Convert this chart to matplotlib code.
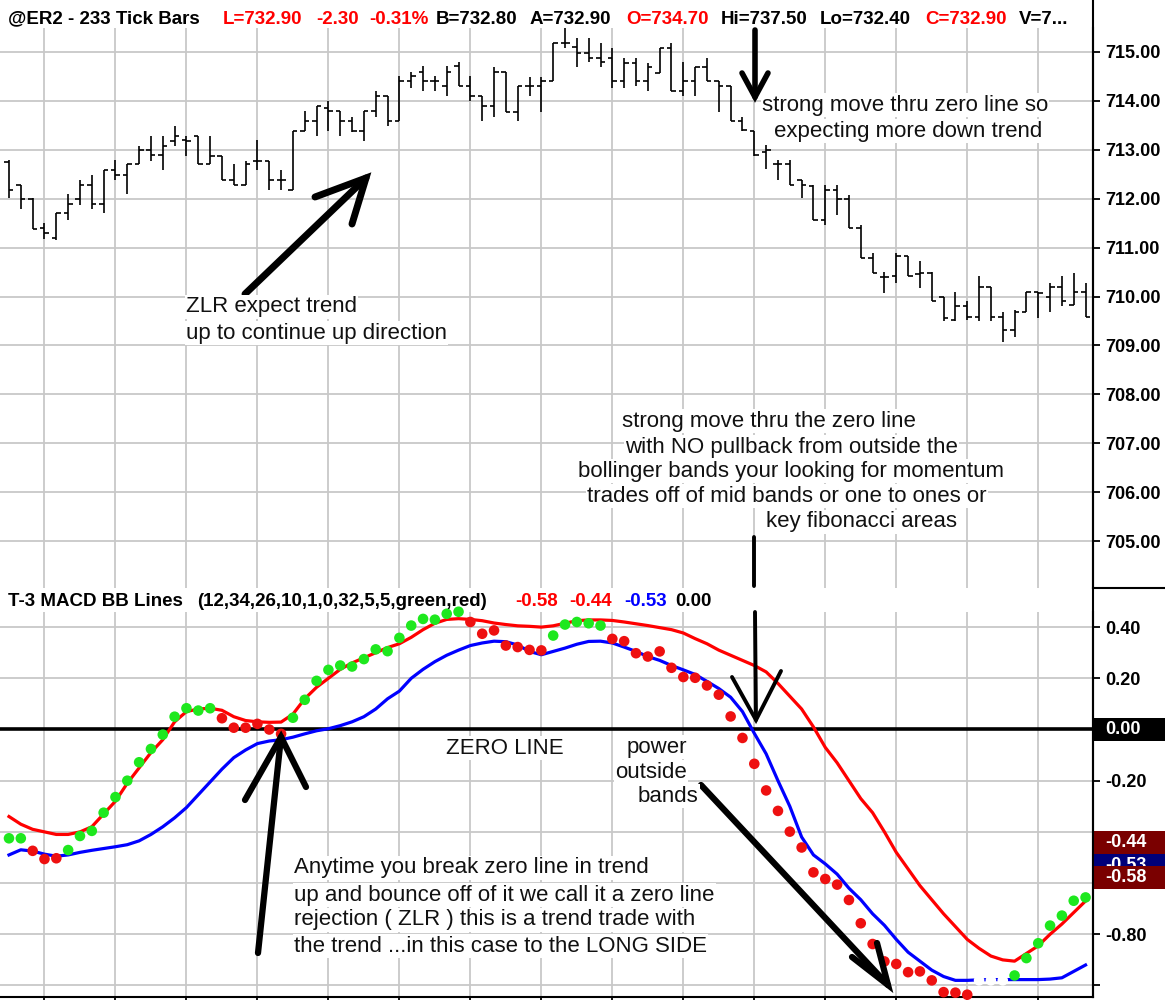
import matplotlib.pyplot as plt
from matplotlib.lines import Line2D
from matplotlib.patches import Rectangle
import numpy as np

plt.rcParams["font.family"] = ["Liberation Sans", "DejaVu Sans"]

W, H = 1165, 1000

# 233 tick bars
bar_open = [712.75, 712.29, 712.00, 711.40, 711.20, 711.70, 712.00, 712.29, 711.90, 712.58,
            712.49, 712.70, 713.00, 712.90, 713.17, 713.20, 713.28, 712.70, 712.88, 712.39,
            712.29, 712.78, 712.78, 712.39, 712.18, 713.39, 713.58, 713.85, 713.80, 713.58,
            713.39, 713.80, 714.09, 713.58, 714.40, 714.60, 714.40, 714.30, 714.71, 714.30,
            714.10, 713.89, 714.60, 713.78, 714.30, 714.30, 714.40, 715.18, 715.10, 714.98,
            714.88, 714.88, 714.40, 714.78, 714.40, 714.58, 715.08, 714.20, 714.40, 714.69,
            714.40, 714.30, 713.58, 713.39, 712.95, 712.70, 712.70, 712.39, 712.25, 711.57,
            712.18, 712.00, 711.40, 710.78, 710.40, 710.41, 710.82, 710.45, 710.48, 709.98,
            709.52, 709.80, 709.59, 710.20, 709.59, 709.32, 709.69, 710.10, 709.98, 710.20,
            709.83, 710.10]
bar_high = [712.80, 712.29, 712.01, 711.50, 711.70, 712.10, 712.39, 712.49, 712.58, 712.80,
            712.70, 713.08, 713.28, 713.28, 713.49, 713.28, 713.28, 713.28, 712.88, 712.70,
            712.78, 713.19, 712.78, 712.58, 713.39, 713.80, 713.89, 714.00, 713.80, 713.68,
            713.80, 714.20, 714.09, 714.50, 714.60, 714.71, 714.50, 714.71, 714.79, 714.50,
            714.10, 714.69, 714.60, 714.30, 714.49, 714.49, 715.18, 715.49, 715.29, 715.29,
            715.18, 715.08, 714.88, 714.88, 714.78, 715.08, 715.18, 714.79, 714.69, 714.88,
            714.40, 714.30, 713.68, 713.39, 713.10, 712.80, 712.80, 712.39, 712.28, 712.28,
            712.28, 712.08, 711.47, 710.89, 710.51, 710.89, 710.82, 710.72, 710.51, 710.00,
            710.10, 709.90, 710.41, 710.20, 709.69, 709.73, 710.10, 710.10, 710.27, 710.41,
            710.48, 710.27]
bar_low = [712.01, 711.78, 711.38, 711.18, 711.16, 711.57, 711.88, 711.79, 711.70, 712.39,
           712.10, 712.70, 712.78, 712.58, 713.08, 712.88, 712.70, 712.70, 712.39, 712.29,
           712.29, 712.58, 712.18, 712.18, 712.18, 713.39, 713.28, 713.39, 713.28, 713.37,
           713.17, 713.68, 713.48, 713.58, 714.26, 714.20, 714.20, 714.09, 714.30, 714.00,
           713.58, 713.68, 713.78, 713.58, 714.09, 713.78, 714.40, 715.08, 714.69, 714.79,
           714.70, 714.26, 714.26, 714.30, 714.20, 714.57, 714.20, 714.09, 714.09, 714.40,
           713.78, 713.58, 713.39, 712.87, 712.60, 712.39, 712.29, 712.01, 711.57, 711.47,
           711.67, 711.40, 710.78, 710.48, 710.07, 710.27, 710.41, 710.17, 709.90, 709.49,
           709.49, 709.52, 709.49, 709.49, 709.08, 709.18, 709.69, 709.56, 709.69, 709.80,
           709.83, 709.59]
bar_close = [712.18, 712.00, 711.38, 711.30, 711.70, 711.90, 712.29, 711.90, 712.58, 712.49,
             712.70, 713.00, 712.90, 713.08, 713.28, 713.17, 712.70, 712.88, 712.39, 712.29,
             712.70, 712.78, 712.39, 712.39, 713.39, 713.58, 713.89, 713.80, 713.58, 713.39,
             713.80, 714.09, 713.58, 714.40, 714.50, 714.40, 714.40, 714.60, 714.30, 714.10,
             713.89, 714.60, 713.78, 714.30, 714.30, 714.40, 715.18, 715.18, 714.98, 714.88,
             714.79, 714.40, 714.78, 714.40, 714.69, 715.08, 714.20, 714.40, 714.69, 714.40,
             714.30, 713.58, 713.41, 712.90, 713.00, 712.70, 712.29, 712.29, 711.57, 712.18,
             712.00, 711.40, 710.78, 710.48, 710.40, 710.82, 710.41, 710.48, 709.90, 709.56,
             709.80, 709.59, 710.20, 709.59, 709.32, 709.69, 710.10, 710.08, 710.20, 709.90,
             710.10, 709.59]

# T-3 MACD BB lines
macd_dots = [-0.425, -0.425, -0.474, -0.506, -0.503, -0.471, -0.416, -0.396, -0.325, -0.264,
             -0.200, -0.128, -0.076, -0.020, 0.050, 0.083, 0.074, 0.083, 0.044, 0.007,
             0.007, 0.022, 0.000, -0.017, 0.046, 0.116, 0.190, 0.233, 0.250, 0.246,
             0.275, 0.313, 0.306, 0.358, 0.406, 0.432, 0.429, 0.452, 0.460, 0.420,
             0.374, 0.387, 0.328, 0.322, 0.311, 0.309, 0.367, 0.410, 0.420, 0.415,
             0.406, 0.354, 0.345, 0.298, 0.285, 0.305, 0.241, 0.205, 0.202, 0.172,
             0.136, 0.051, -0.033, -0.134, -0.238, -0.318, -0.399, -0.461, -0.558, -0.584,
             -0.606, -0.666, -0.757, -0.838, -0.906, -0.916, -0.948, -0.945, -0.980, -1.026,
             -1.028, -1.036, -0.980, -0.980, -0.980, -0.961, -0.893, -0.835, -0.766, -0.727,
             -0.669, -0.656]
dot_state = ("gg" "rrr" "ggggggggggggg" "rrrrrr" "ggggggggggggggg" "rrrrrrr" "ggggg"
             "rrrrrrrrrrrrrrrrrrrrrrrrrrrrrrr" "www" "ggggggg")
bb_line = [-0.34, -0.37, -0.39, -0.40, -0.41, -0.41, -0.40, -0.38, -0.33, -0.28,
           -0.21, -0.15, -0.09, -0.04, 0.03, 0.07, 0.08, 0.083, 0.075, 0.05,
           0.035, 0.03, 0.028, 0.029, 0.06, 0.12, 0.165, 0.20, 0.235, 0.26,
           0.28, 0.30, 0.32, 0.335, 0.36, 0.39, 0.415, 0.43, 0.433, 0.43,
           0.425, 0.416, 0.41, 0.405, 0.403, 0.40, 0.405, 0.415, 0.425, 0.428,
           0.428, 0.426, 0.42, 0.413, 0.406, 0.398, 0.39, 0.377, 0.355, 0.335,
           0.31, 0.29, 0.27, 0.25, 0.225, 0.18, 0.13, 0.08, 0.01, -0.07,
           -0.13, -0.20, -0.27, -0.325, -0.40, -0.48, -0.545, -0.61, -0.665, -0.72,
           -0.77, -0.82, -0.855, -0.885, -0.90, -0.905, -0.875, -0.845, -0.80, -0.76,
           -0.715, -0.67]
avg_line = [-0.49, -0.47, -0.475, -0.487, -0.495, -0.49, -0.48, -0.472, -0.465, -0.458,
            -0.45, -0.435, -0.41, -0.38, -0.345, -0.305, -0.255, -0.205, -0.155, -0.11,
            -0.08, -0.055, -0.045, -0.04, -0.03, -0.017, -0.005, 0.003, 0.015, 0.03,
            0.05, 0.08, 0.12, 0.15, 0.20, 0.235, 0.265, 0.29, 0.31, 0.328,
            0.338, 0.345, 0.343, 0.33, 0.305, 0.292, 0.305, 0.318, 0.333, 0.344,
            0.345, 0.338, 0.322, 0.305, 0.285, 0.27, 0.25, 0.233, 0.215, 0.188,
            0.16, 0.126, 0.07, -0.015, -0.095, -0.20, -0.30, -0.42, -0.49, -0.525,
            -0.565, -0.62, -0.665, -0.72, -0.765, -0.82, -0.87, -0.905, -0.94, -0.965,
            -0.98, -0.98, -0.978, -0.977, -0.977, -0.977, -0.977, -0.977, -0.975, -0.97,
            -0.945, -0.92]

price_ticks = [715, 714, 713, 712, 711, 710, 709, 708, 707, 706, 705]
macd_ticks = [0.4, 0.2, 0.0, -0.2, -0.4, -0.6, -0.8, -1.0]
# -0.40 / -0.60 sit under the value flags, 0.00 gets its own black flag
macd_tick_labels = ["0.40", "0.20", "", "-0.20", "", "", "-0.80", ""]
grid_bars = [3, 9, 15, 21, 27, 33, 39, 45, 51, 57, 63, 69, 75, 81, 87]

# last value flags on the MACD axis (drawn in this order, later ones on top)
flag_values = [0.0, -0.53, -0.44, -0.58]
flag_colors = ["black", "#00007a", "#7a0000", "#7a0000"]

header_parts = [(8, "@ER2 - 233 Tick Bars", "black"), (223, "L=732.90", "red"),
                (316, "-2.30", "red"), (369, "-0.31%", "red"), (436, "B=732.80", "black"),
                (530, "A=732.90", "black"), (626, "O=734.70", "red"), (721, "Hi=737.50", "black"),
                (820, "Lo=732.40", "black"), (925, "C=732.90", "red"), (1019, "V=7...", "black")]
macd_header = [(8, "T-3 MACD BB Lines", "black"),
               (197, "(12,34,26,10,1,0,32,5,5,green,red)", "black"),
               (515, "-0.58", "red"), (569, "-0.44", "red"), (624, "-0.53", "blue"),
               (675, "0.00", "black")]

dot_colors = {"g": "#1ee81e", "r": "#ee1010", "w": "white"}
bar_x = np.arange(len(bar_close))


def fx(x):
    return x / W


def fy(y):
    return 1 - y / H


def px_rect(x0, y0, x1, y1):
    return [x0 / W, 1 - y1 / H, (x1 - x0) / W, (y1 - y0) / H]


fig = plt.figure(figsize=(W / 100, H / 100), dpi=100)
fig.patch.set_facecolor("white")

ax_p = fig.add_axes(px_rect(0, 28, 1093, 588))
ax_m = fig.add_axes(px_rect(0, 612, 1093, 997))

for ax in (ax_p, ax_m):
    ax.set_xlim(-0.76, 91.63)
    ax.set_xticks(grid_bars)
    ax.grid(True, color="#c8c8c8", lw=1.3)
    ax.set_axisbelow(True)
    ax.yaxis.tick_right()
    ax.tick_params(axis="y", direction="out", length=5, width=1.3, pad=4,
                   labelsize=13)
    for side in ("top", "left"):
        ax.spines[side].set_visible(False)
    ax.spines["right"].set_linewidth(1.5)

ax_p.spines["bottom"].set_visible(False)
ax_p.tick_params(axis="x", length=0, labelbottom=False)
ax_p.set_ylim(704.04, 715.49)
ax_p.set_yticks(price_ticks)
ax_p.set_yticklabels([f"{v:.2f}" for v in price_ticks], fontweight="bold")

ax_m.spines["bottom"].set_linewidth(1.5)
ax_m.tick_params(axis="x", direction="out", length=6, width=1.3, labelbottom=False)
ax_m.set_ylim(-1.045, 0.459)
ax_m.set_yticks(macd_ticks)
ax_m.set_yticklabels(macd_tick_labels, fontweight="bold")

# price bars
ax_p.vlines(bar_x, bar_low, bar_high, color="black", lw=1.2)
ax_p.hlines(bar_open, bar_x - 0.38, bar_x, color="black", lw=1.2)
ax_p.hlines(bar_close, bar_x, bar_x + 0.38, color="black", lw=1.2)

# macd panel
ax_m.axhline(0, color="black", lw=2.6, zorder=2)
ax_m.plot(bar_x, bb_line, color="#ff0000", lw=2.3, zorder=3)
ax_m.plot(bar_x, avg_line, color="#0000ff", lw=2.3, zorder=3)
ax_m.scatter(bar_x, macd_dots, c=[dot_colors[s] for s in dot_state], s=58,
             linewidths=0, zorder=4, clip_on=False)

ymap = ax_m.get_yaxis_transform()
for k, (val, col) in enumerate(zip(flag_values, flag_colors)):
    box = Rectangle((1.0, val - 0.045), 72 / 1093, 0.09, transform=ymap,
                    facecolor=col, edgecolor="none", clip_on=False, zorder=6 + 2 * k)
    ax_m.add_patch(box)
    ax_m.text(1.0 + 12 / 1093, val, f"{val:.2f}", transform=ymap, color="white",
              fontsize=13, fontweight="bold", va="center", ha="left",
              clip_on=False, zorder=7 + 2 * k)

# frame bits between the panels
fig.add_artist(Line2D([fx(1093), fx(1093)], [fy(0), fy(997)], color="black", lw=1.5))
fig.add_artist(Line2D([fx(1093), fx(1165)], [fy(588), fy(588)], color="black", lw=1.5))

for x, txt, col in header_parts:
    fig.text(fx(x), fy(19), txt, color=col, fontsize=13.5, fontweight="bold",
             ha="left", va="center")
for x, txt, col in macd_header:
    fig.text(fx(x), fy(602), txt, color=col, fontsize=13.5, fontweight="bold",
             ha="left", va="center")

notes = [
    ("ZLR expect trend", 186, 307, "left"),
    ("up to continue up direction", 186, 333, "left"),
    ("strong move thru zero line so", 905, 105, "center"),
    ("expecting more down trend", 908, 131, "center"),
    ("strong move thru the zero line", 622, 421, "left"),
    ("with NO pullback from outside the", 625, 447, "left"),
    ("bollinger bands your looking for momentum", 578, 471, "left"),
    ("trades off of mid bands or one to ones or", 587, 496, "left"),
    ("key fibonacci areas", 766, 522, "left"),
    ("ZERO LINE", 446, 748, "left"),
    ("power", 657, 747, "center"),
    ("outside", 651, 772, "center"),
    ("bands", 668, 796, "center"),
    ("Anytime you break zero line in trend", 294, 868, "left"),
    ("up and bounce off of it we call it a zero line", 294, 895, "left"),
    ("rejection ( ZLR ) this is a trend trade with", 294, 920, "left"),
    ("the trend ...in this case to the LONG SIDE", 294, 946, "left"),
]
for txt, x, y, ha in notes:
    fig.text(fx(x), fy(y), txt, fontsize=16, color="#111111", ha=ha, va="center",
             bbox=dict(facecolor="white", edgecolor="none", pad=1.0))

# hand drawn arrows
strokes = [
    ([(245, 294), (366, 178)], 5),
    ([(315, 197), (366, 178), (352, 224)], 5),
    ([(755, 30), (755, 97)], 4),
    ([(742, 73), (755, 97), (768, 73)], 4),
    ([(754, 537), (754, 586)], 2.8),
    ([(755, 612), (756, 720)], 2.8),
    ([(732, 677), (756, 720), (781, 671)], 2.8),
    ([(258, 953), (281, 737)], 4.5),
    ([(245, 800), (281, 737), (306, 787)], 4.5),
    ([(701, 785), (888, 985)], 4.5),
    ([(877, 943), (888, 985), (852, 957)], 4.5),
]
for pts, lw in strokes:
    xs = [fx(p[0]) for p in pts]
    ys = [fy(p[1]) for p in pts]
    fig.add_artist(Line2D(xs, ys, color="black", lw=lw, solid_capstyle="round",
                          solid_joinstyle="miter"))

fig.savefig("out.png", dpi=100)
